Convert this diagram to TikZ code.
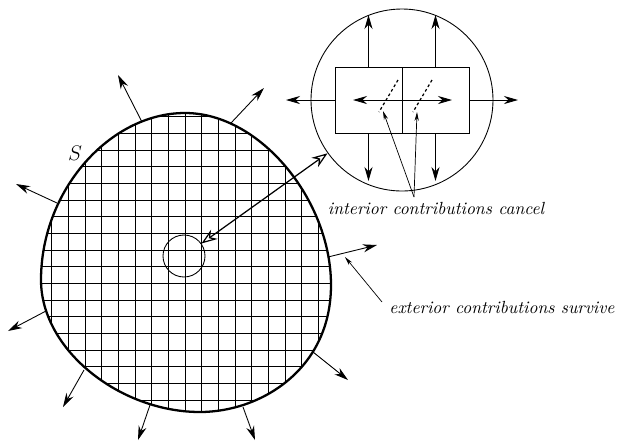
\documentclass[tikz,border=0pt]{standalone}
\usetikzlibrary{arrows.meta}
\tikzset{
  boundary/.style = {line width=1.3pt},
  gridline/.style = {line width=0.45pt},
  normal/.style   = {-{Stealth[length=8pt,width=4.6pt]}, line width=0.5pt},
  pointer/.style  = {-{Stealth[length=5pt,width=2.4pt]}, line width=0.4pt},
  zoomarrow/.style = {{Stealth[open,length=9pt,width=6.5pt]}-{Stealth[open,length=9pt,width=6.5pt]},
                      line width=0.7pt, shorten <=0.3pt, shorten >=0.3pt},
  cutline/.style  = {dash pattern=on 1.6pt off 1.4pt, line width=0.7pt},
  cell/.style     = {draw, line width=0.5pt, minimum width=13.4mm,
                     minimum height=13.2mm, inner sep=0pt, outer sep=0pt},
  ring/.style     = {draw, circle, line width=0.5pt, inner sep=0pt, outer sep=0pt},
  note/.style     = {font=\itshape, inner sep=1pt},
}
\def\blobpath{(185,113) .. controls (260,113) and (331,200) .. (331,285)
  .. controls (331,370) and (260,412) .. (200,412)
  .. controls (120,412) and (41,350) .. (41,280)
  .. controls (41,190) and (110,113) .. (185,113) -- cycle}

\begin{document}
\begin{tikzpicture}[x=0.2mm, y=-0.2mm]
    \useasboundingbox (0,0) rectangle (618,443);

    % grid inside the surface
    \begin{scope}
        \clip \blobpath;
        \foreach \k in {-1,...,17}
            \draw[gridline] ({51.7+16.667*\k},100) -- ({51.7+16.667*\k},420);
        \foreach \k in {-1,...,18}
            \draw[gridline] (30,{116.7+16.667*\k}) -- (340,{116.7+16.667*\k});
    \end{scope}
    \draw[boundary] \blobpath;
    \node[font=\large] (slabel) at (75,153) {$S$};

    % outward normals on the surface
    \foreach \i/\sx/\sy/\tx/\ty in {1/142/122/118/75, 2/231/123/264/88,
        3/57/203/16/184, 4/46/311/8/331, 5/84/370/63/407,
        6/150/405/138/440, 7/243/407/255/440, 8/313/352/348/380,
        9/328/257/377/245} {
        \coordinate (s\i) at (\sx,\sy);
        \coordinate (t\i) at (\tx,\ty);
        \draw[normal] (s\i) -- (t\i);
    }

    % magnified view
    \node[ring, minimum size=8.4mm] (spot) at (184,256) {};
    \node[ring, minimum size=36.4mm] (mag) at (402,100) {};
    \draw[zoomarrow] (spot) -- (mag);

    \node[cell] (cellL) at (368.5,100) {};
    \node[cell] (cellR) at (435.5,100) {};

    \coordinate (upL) at (368.5,15);
    \coordinate (upR) at (435.5,15);
    \coordinate (dnL) at (368.5,181);
    \coordinate (dnR) at (435.5,181);
    \coordinate (outL) at (286,100);
    \coordinate (outR) at (518,100);
    \coordinate (inL) at (353,100);
    \coordinate (inR) at (452,100);
    \draw[normal] (cellL.north) -- (upL);
    \draw[normal] (cellR.north) -- (upR);
    \draw[normal] (cellL.south) -- (dnL);
    \draw[normal] (cellR.south) -- (dnR);
    \draw[normal] (cellL.west) -- (outL);
    \draw[normal] (cellR.east) -- (outR);
    \draw[normal] (cellL.east) -- (inL);
    \draw[normal] (cellR.west) -- (inR);

    \coordinate (cutLa) at (398,80);
    \coordinate (cutLb) at (379,112);
    \coordinate (cutRa) at (432,80);
    \coordinate (cutRb) at (413,112);
    \draw[cutline] (cutLa) -- (cutLb);
    \draw[cutline] (cutRa) -- (cutRb);

    % labels and their pointers
    \node[note] (interior) at (436,208) {interior contributions cancel};
    \node[note] (exterior) at (502,307) {exterior contributions survive};
    \coordinate (meet) at (414,197);
    \coordinate (tipL) at (383,111);
    \coordinate (tipR) at (417,112);
    \draw[pointer] (meet) -- (tipL);
    \draw[pointer] (meet) -- (tipR);
    \coordinate (extfoot) at (382,302);
    \coordinate (exttip) at (345,257);
    \draw[pointer] (extfoot) -- (exttip);
\end{tikzpicture}
\end{document}
